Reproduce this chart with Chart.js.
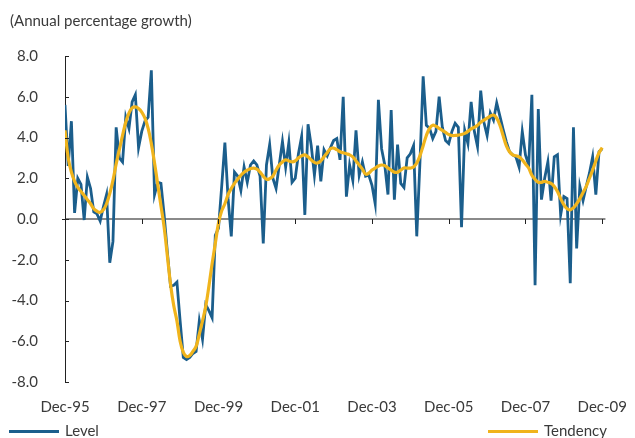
<!DOCTYPE html>
<html>
<head>
<meta charset="utf-8">
<script src="https://cdn.jsdelivr.net/npm/chart.js@4.4.1/dist/chart.umd.min.js"></script>
<style>
  html, body { margin: 0; padding: 0; background: #fff; }
  body { width: 635px; height: 438px; position: relative; overflow: hidden; font-family: Lato, sans-serif; color: #3a3a3a; }
  #wrap { position: absolute; left: 0; top: 0; width: 635px; height: 438px; }
  .title { position: absolute; left: 10px; top: 11px; font-size: 15px; line-height: 18px; }
  .leg { position: absolute; top: 421px; font-size: 15px; line-height: 18px; }
  .leg i { display: inline-block; width: 50px; height: 3px; vertical-align: middle; margin-right: 6px; position: relative; top: -1px; }
</style>
</head>
<body>
<div id="wrap"><canvas id="growthChart" width="635" height="438"></canvas></div>
<div class="title">(Annual percentage growth)</div>
<div class="leg" style="left:9px"><i style="background:#1b5e8c"></i>Level</div>
<div class="leg" style="left:488px"><i style="background:#f0b41c"></i>Tendency</div>
<script>
// monthly, Dec-95 .. Dec-09 (169 months)
const levelData = [
    5.6, 2.6, 4.8, 0.3, 2.0, 1.7, -0.05, 2.05, 1.5, 0.35, 0.25, -0.1,
    0.6, 1.2, -2.15, -1.1, 4.5, 3.0, 2.8, 5.0, 4.45, 5.75, 6.1, 3.5,
    4.3, 4.8, 5.0, 7.3, 1.2, 1.8, 1.75, 0.2, -1.6, -3.3, -3.25, -3.1,
    -5.0, -6.8, -6.9, -6.8, -6.6, -6.5, -5.0, -5.9, -4.2, -4.5, -4.85, -0.8,
    -0.45, 1.6, 3.75, 1.0, -0.85, 2.3, 2.1, 1.4, 2.55, 1.8, 2.65, 2.85,
    2.65, 2.1, -1.2, 2.65, 3.65, 2.0, 1.5, 2.65, 3.8, 2.55, 3.75, 1.8,
    2.0, 3.2, 4.05, 0.2, 4.65, 3.6, 2.15, 3.6, 1.85, 3.4, 3.1, 3.5,
    3.85, 3.95, 2.9, 6.0, 1.1, 2.65, 1.9, 4.35, 2.15, 2.8, 2.1, 2.15,
    1.65, 0.75, 5.85, 3.45, 2.65, 1.2, 5.35, 0.95, 3.65, 1.75, 1.55, 3.0,
    3.2, 3.6, -0.85, 2.8, 7.0, 4.6, 4.45, 3.95, 4.3, 6.0, 4.5, 3.85,
    3.7, 4.3, 4.7, 4.5, -0.4, 4.35, 3.7, 5.75, 4.3, 3.55, 6.3, 4.75,
    4.1, 5.2, 4.85, 5.7, 5.05, 4.4, 3.8, 3.3, 3.15, 3.05, 2.55, 4.3,
    3.15, 2.65, 6.1, -3.25, 5.4, 0.95, 2.0, 2.8, 0.9, 3.05, 3.15, 0.2,
    1.1, 1.0, -3.15, 4.5, -1.45, 1.6, 0.9, 1.6, 2.25, 3.05, 1.2, 3.3,
    3.45
];

const tendencyData = [
    4.35, 3.0, 2.3, 1.85, 1.55, 1.35, 1.15, 0.95, 0.75, 0.5, 0.38, 0.33,
    0.45, 0.75, 1.25, 1.9, 2.7, 3.4, 4.1, 4.75, 5.2, 5.45, 5.5, 5.42,
    5.25, 4.95, 4.45, 3.7, 2.75, 1.7, 0.65, -0.4, -1.8, -3.2, -4.25, -5.0,
    -6.0, -6.55, -6.75, -6.7, -6.5, -6.25, -5.65, -5.0, -4.3, -3.3, -2.2, -1.2,
    -0.2, 0.4, 0.75, 1.2, 1.5, 1.75, 1.95, 2.15, 2.3, 2.4, 2.47, 2.5,
    2.45, 2.3, 2.1, 1.95, 1.98, 2.1, 2.4, 2.65, 2.8, 2.9, 2.85, 2.8,
    2.85, 3.0, 3.1, 3.15, 3.05, 2.9, 2.78, 2.75, 2.85, 3.05, 3.25, 3.45,
    3.48, 3.4, 3.3, 3.25, 3.2, 3.15, 3.05, 2.85, 2.65, 2.45, 2.2, 2.25,
    2.4, 2.5, 2.6, 2.65, 2.62, 2.5, 2.4, 2.3, 2.3, 2.4, 2.5, 2.5,
    2.5, 2.55, 2.75, 3.1, 3.6, 4.1, 4.45, 4.6, 4.55, 4.45, 4.35, 4.25,
    4.15, 4.1, 4.1, 4.12, 4.15, 4.2, 4.3, 4.42, 4.5, 4.6, 4.75, 4.85,
    4.95, 5.05, 5.1, 4.95, 4.6, 4.1, 3.6, 3.3, 3.15, 3.1, 3.05, 2.9,
    2.7, 2.5, 2.15, 1.95, 1.8, 1.8, 1.85, 1.8, 1.75, 1.6, 1.35, 1.0,
    0.7, 0.5, 0.45, 0.55, 0.75, 1.0, 1.3, 1.6, 2.0, 2.4, 2.85, 3.25,
    3.5
];

const xTickLabels = ['Dec-95', 'Dec-97', 'Dec-99', 'Dec-01', 'Dec-03', 'Dec-05', 'Dec-07', 'Dec-09'];
const xTickMonths = [0, 24, 48, 72, 96, 120, 144, 168];
const yTicks = [-8, -6, -4, -2, 0, 2, 4, 6, 8];

const toPoints = arr => arr.map((v, i) => ({ x: i, y: v }));

// small inward tick marks on the y axis, downward ticks on the zero line
const tickMarks = {
    id: 'tickMarks',
    afterDatasetsDraw(chart) {
        const c = chart.ctx, xs = chart.scales.x, ys = chart.scales.y;
        const left = chart.chartArea.left;
        const y0 = ys.getPixelForValue(0);
        c.save();
        c.strokeStyle = '#222';
        c.lineWidth = 1;
        c.beginPath();
        yTicks.forEach(v => {
            const y = Math.round(ys.getPixelForValue(v)) + 0.5;
            c.moveTo(left, y);
            c.lineTo(left + 4, y);
        });
        c.moveTo(left - 3, Math.round(y0) + 0.5);
        c.lineTo(left, Math.round(y0) + 0.5);
        xTickMonths.forEach(m => {
            const x = Math.round(xs.getPixelForValue(m)) + 0.5;
            c.moveTo(x, y0);
            c.lineTo(x, y0 + 5);
        });
        c.stroke();
        c.restore();
    }
};

new Chart(document.getElementById('growthChart'), {
    type: 'line',
    data: {
        datasets: [{
            label: 'Tendency',
            data: toPoints(tendencyData),
            borderColor: '#f0b41c',
            borderWidth: 3.2,
            tension: 0.4,
            pointRadius: 0,
            fill: false,
            order: 0
        }, {
            label: 'Level',
            data: toPoints(levelData),
            borderColor: '#1b5e8c',
            borderWidth: 2.8,
            tension: 0,
            pointRadius: 0,
            fill: false,
            order: 1
        }]
    },
    plugins: [tickMarks],
    options: {
        responsive: false,
        animation: false,
        layout: { padding: { left: 0, right: 25, top: 56, bottom: 26 } },
        plugins: {
            legend: { display: false },
            tooltip: { enabled: false }
        },
        scales: {
            x: {
                type: 'linear',
                min: 0,
                max: 169,
                afterBuildTicks: scale => { scale.ticks = xTickMonths.map(v => ({ value: v })); },
                afterFit: scale => { scale.height = 30; },
                grid: { display: false },
                border: { display: false },
                ticks: {
                    padding: 8,
                    maxRotation: 0,
                    autoSkip: false,
                    color: '#3a3a3a',
                    font: { family: 'Lato', size: 15 },
                    callback: (v) => xTickLabels[xTickMonths.indexOf(v)]
                }
            },
            y: {
                min: -8,
                max: 8,
                afterBuildTicks: scale => { scale.ticks = yTicks.map(v => ({ value: v })); },
                afterFit: scale => { scale.width = 65; },
                border: { display: true, color: '#222', width: 1 },
                grid: {
                    drawTicks: false,
                    color: ctx => ctx.tick && ctx.tick.value === 0 ? '#8a8a8a' : 'rgba(0,0,0,0)',
                    lineWidth: 2
                },
                ticks: {
                    padding: 27,
                    color: '#3a3a3a',
                    font: { family: 'Lato', size: 15 },
                    callback: v => v.toFixed(1)
                }
            }
        }
    }
});
</script>
</body>
</html>
